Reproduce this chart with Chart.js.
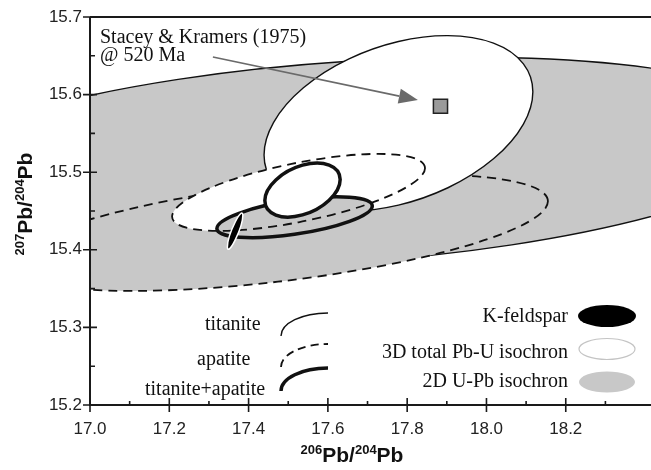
<!DOCTYPE html>
<html>
<head>
<meta charset="utf-8">
<script src="https://cdn.jsdelivr.net/npm/chart.js@4.4.1/dist/chart.umd.min.js"></script>
<style>
  html, body { margin: 0; padding: 0; background: #fff; }
</style>
</head>
<body>
<canvas id="c" width="651" height="470"></canvas>
<script>
// Error ellipses: centre, half-extent in x and y, and x-y correlation (rho)
const ellNames = ['titanite 2D', 'apatite 2D', 'titanite 3D', 'apatite 3D', 'titanite+apatite 2D', 'titanite+apatite 3D', 'K-feldspar'];
const ellX   = [17.643, 17.474, 17.778, 17.526, 17.516, 17.536, 17.366];
const ellY   = [15.513, 15.422, 15.563, 15.474, 15.442, 15.477, 15.424];
const ellSX  = [1.143, 0.681, 0.339, 0.319, 0.196, 0.095, 0.0195];
const ellSY  = [0.135, 0.075, 0.113, 0.0496, 0.0264, 0.0348, 0.0233];
const ellRho = [0.28, 0.54, 0.36, 0.63, 0.55, 0.39, 0.87];

// Stacey & Kramers (1975) model lead at 520 Ma, and the arrow pointing at it
const skPoint = [17.884, 15.585];
const arrowFrom = [17.31, 15.6485];
const arrowTo = [17.827, 15.593];

const xRange = [17.0, 18.415];
const yRange = [15.2, 15.7];

const GRAY = '#c8c8c8';
const SANS = '"Liberation Sans", Arial, sans-serif';
const SERIF = '"Liberation Serif", "Times New Roman", serif';

const ellStyle = [
  { fill: GRAY,   width: 1.4, dash: [] },
  { fill: GRAY,   width: 1.8, dash: [9, 6] },
  { fill: '#fff', width: 1.4, dash: [] },
  { fill: '#fff', width: 1.8, dash: [9, 6] },
  { fill: GRAY,   width: 3.5, dash: [] },
  { fill: '#fff', width: 3.5, dash: [] },
  { fill: '#000', width: 1.5, dash: [], stroke: '#fff' },
];
// paint order; the dashed apatite 3D outline runs over the thick 2D fill
const steps = [[0,'f'],[0,'s'],[1,'f'],[1,'s'],[2,'f'],[2,'s'],[3,'f'],[4,'f'],[3,'s'],[4,'s'],[5,'f'],[5,'s'],[6,'f'],[6,'s']];

function ellipsePath(ctx, xs, ys, i) {
  const cx = xs.getPixelForValue(ellX[i]), cy = ys.getPixelForValue(ellY[i]);
  const ux = xs.getPixelForValue(ellX[i] + ellSX[i]) - cx;
  const uy = ys.getPixelForValue(ellY[i] + ellRho[i] * ellSY[i]) - cy;
  const vy = ys.getPixelForValue(ellY[i] + ellSY[i] * Math.sqrt(1 - ellRho[i] * ellRho[i])) - cy;
  ctx.save();
  ctx.transform(ux, uy, 0, vy, cx, cy);   // unit circle -> ellipse in pixel space
  ctx.beginPath();
  ctx.arc(0, 0, 1, 0, Math.PI * 2);
  ctx.closePath();
  ctx.restore();                          // path kept, line width stays in pixels
}

function supText(ctx, parts, x, y) {
  let total = 0;
  parts.forEach(p => { ctx.font = p[1] ? 'bold 13px ' + SANS : 'bold 21px ' + SANS; total += ctx.measureText(p[0]).width; });
  let px = x - total / 2;
  parts.forEach(p => {
    ctx.font = p[1] ? 'bold 13px ' + SANS : 'bold 21px ' + SANS;
    ctx.fillText(p[0], px, p[1] ? y - 8 : y);
    px += ctx.measureText(p[0]).width;
  });
}

const isochronPlugin = {
  id: 'isochron',
  beforeDatasetsDraw(chart) {
    const { ctx, chartArea: a } = chart;
    const xs = chart.scales.x, ys = chart.scales.y;
    ctx.save();
    ctx.beginPath();
    ctx.rect(a.left, a.top, a.right - a.left, a.bottom - a.top);
    ctx.clip();
    steps.forEach(([i, op]) => {
      const st = ellStyle[i];
      ellipsePath(ctx, xs, ys, i);
      if (op === 'f') { ctx.fillStyle = st.fill; ctx.fill(); }
      else {
        ctx.setLineDash(st.dash);
        ctx.lineWidth = st.width;
        ctx.strokeStyle = st.stroke || '#111';
        ctx.stroke();
        ctx.setLineDash([]);
      }
    });
    // arrow to the model point
    const x0 = xs.getPixelForValue(arrowFrom[0]), y0 = ys.getPixelForValue(arrowFrom[1]);
    const x1 = xs.getPixelForValue(arrowTo[0]), y1 = ys.getPixelForValue(arrowTo[1]);
    const len = Math.hypot(x1 - x0, y1 - y0), dx = (x1 - x0) / len, dy = (y1 - y0) / len;
    const head = 19, hw = 7.5;
    ctx.strokeStyle = '#6a6a6a'; ctx.fillStyle = '#6a6a6a'; ctx.lineWidth = 1.6;
    ctx.beginPath(); ctx.moveTo(x0, y0); ctx.lineTo(x1 - dx * head, y1 - dy * head); ctx.stroke();
    ctx.beginPath();
    ctx.moveTo(x1, y1);
    ctx.lineTo(x1 - dx * head - dy * hw, y1 - dy * head + dx * hw);
    ctx.lineTo(x1 - dx * head + dy * hw, y1 - dy * head - dx * hw);
    ctx.closePath(); ctx.fill();
    ctx.restore();
  },
  afterDraw(chart) {
    const { ctx, chartArea: a } = chart;
    const xs = chart.scales.x, ys = chart.scales.y;
    ctx.save();
    // axes frame: left, bottom and the top rule
    ctx.strokeStyle = '#1a1a1a'; ctx.lineWidth = 2;
    ctx.beginPath();
    ctx.moveTo(a.left, a.top); ctx.lineTo(a.right, a.top);
    ctx.moveTo(a.left, a.top); ctx.lineTo(a.left, a.bottom); ctx.lineTo(a.right, a.bottom);
    ctx.stroke();
    // tick marks crossing the axes; majors every 0.2 / 0.1
    ctx.lineWidth = 1.6;
    ctx.beginPath();
    xs.ticks.forEach(t => {
      if (t.value > 18.35) return;          // cropped edge carries no tick
      const px = xs.getPixelForValue(t.value);
      const major = Math.round(t.value * 10) % 2 === 0;
      ctx.moveTo(px, a.bottom - (major ? 7 : 4)); ctx.lineTo(px, a.bottom + (major ? 7 : 1));
    });
    ys.ticks.forEach(t => {
      const py = ys.getPixelForValue(t.value);
      const major = Math.round(t.value * 20) % 2 === 0;
      ctx.moveTo(a.left - (major ? 7 : 1), py); ctx.lineTo(a.left + (major ? 7 : 5), py);
    });
    ctx.stroke();

    // annotation
    ctx.fillStyle = '#111';
    ctx.textAlign = 'left'; ctx.textBaseline = 'alphabetic';
    ctx.font = '20px ' + SERIF;
    ctx.fillText('Stacey & Kramers (1975)', 100, 43);
    ctx.fillText('@ 520 Ma', 100, 61);

    // line-style key (bottom left)
    ctx.fillText('titanite', 205, 330);
    ctx.fillText('apatite', 197, 365);
    ctx.fillText('titanite+apatite', 145, 395);
    [[336, 1.4, []], [367, 1.8, [8, 5]], [391, 3.5, []]].forEach(([cy, w, dash]) => {
      ctx.beginPath();
      ctx.ellipse(328, cy, 47, 23, 0, Math.PI, Math.PI * 1.5);
      ctx.setLineDash(dash); ctx.lineWidth = w; ctx.strokeStyle = '#111'; ctx.stroke();
    });
    ctx.setLineDash([]);

    // fill key (bottom right)
    ctx.textAlign = 'right';
    ctx.fillText('K-feldspar', 568, 322);
    ctx.fillText('3D total Pb-U isochron', 568, 358);
    ctx.fillText('2D U-Pb isochron', 568, 387);
    ctx.beginPath(); ctx.ellipse(607, 316, 29, 11, 0, 0, Math.PI * 2); ctx.fillStyle = '#000'; ctx.fill();
    ctx.beginPath(); ctx.ellipse(607, 349, 28, 10.5, 0, 0, Math.PI * 2); ctx.fillStyle = '#fff'; ctx.fill();
    ctx.strokeStyle = '#c4c4c4'; ctx.lineWidth = 1.2; ctx.stroke();
    ctx.beginPath(); ctx.ellipse(607, 382, 28, 10.5, 0, 0, Math.PI * 2); ctx.fillStyle = GRAY; ctx.fill();

    // axis titles with superscript mass numbers
    ctx.fillStyle = '#111';
    ctx.textAlign = 'left';
    supText(ctx, [['206', true], ['Pb/', false], ['204', true], ['Pb', false]], 352, 462);
    ctx.translate(32, 204);
    ctx.rotate(-Math.PI / 2);
    supText(ctx, [['207', true], ['Pb/', false], ['204', true], ['Pb', false]], 0, 0);
    ctx.restore();
  }
};

const tickFont = { family: SANS, size: 17 };

new Chart(document.getElementById('c'), {
  type: 'scatter',
  data: {
    datasets: [{
      label: 'Stacey & Kramers (1975) @ 520 Ma',
      data: [{ x: skPoint[0], y: skPoint[1] }],
      pointStyle: 'rect', pointRadius: 10,
      backgroundColor: '#9a9a9a', borderColor: '#222', borderWidth: 1.5
    }]
  },
  options: {
    responsive: false, animation: false, events: [],
    layout: { autoPadding: false, padding: { top: 17, right: 0, left: 0, bottom: 0 } },
    plugins: { legend: { display: false }, tooltip: { enabled: false } },
    scales: {
      x: {
        type: 'linear', min: xRange[0], max: xRange[1],
        afterFit(s) { s.height = 65; s.paddingLeft = 0; s.paddingRight = 0; },
        grid: { display: true, drawOnChartArea: false, drawTicks: false },
        border: { display: false },
        ticks: {
          stepSize: 0.1, includeBounds: false, autoSkip: false, maxRotation: 0,
          padding: 14, color: '#222', font: tickFont,
          callback: v => (Math.round(v * 10) % 2 === 0 && v < 18.3) ? v.toFixed(1) : ''
        }
      },
      y: {
        type: 'linear', min: yRange[0], max: yRange[1],
        afterFit(s) { s.width = 90; s.paddingTop = 0; s.paddingBottom = 0; },
        grid: { display: true, drawOnChartArea: false, drawTicks: false },
        border: { display: false },
        ticks: {
          stepSize: 0.05, includeBounds: false, autoSkip: false,
          padding: 8, color: '#222', font: tickFont,
          callback: v => Math.round(v * 20) % 2 === 0 ? v.toFixed(1) : ''
        }
      }
    }
  },
  plugins: [isochronPlugin]
});
</script>
</body>
</html>
